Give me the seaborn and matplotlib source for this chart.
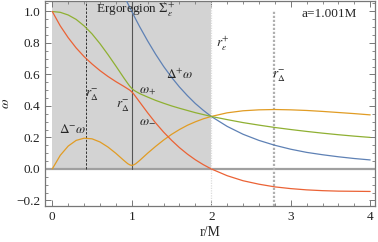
import numpy as np
import pandas as pd
import matplotlib
matplotlib.use("Agg")
import matplotlib.pyplot as plt
from matplotlib.ticker import MultipleLocator
import seaborn as sns

# ---- data ----
r = [0.0, 0.1, 0.2, 0.3, 0.4, 0.5, 0.6, 0.7, 0.8, 0.9, 0.95, 0.975, 1.0, 1.025, 1.05,
     1.1, 1.2, 1.3, 1.4, 1.5, 1.6, 1.7, 1.8, 1.9, 2.0, 2.2, 2.4, 2.6, 2.8, 3.0,
     3.2, 3.4, 3.6, 3.8, 4.0]
omega_plus = [0.999, 0.994, 0.977, 0.949, 0.908, 0.857, 0.795, 0.726, 0.653, 0.578, 0.542,
              0.525, 0.511, 0.500, 0.492, 0.478, 0.456, 0.435, 0.417, 0.400, 0.385, 0.371,
              0.357, 0.345, 0.333, 0.313, 0.294, 0.278, 0.263, 0.250, 0.238, 0.227, 0.217,
              0.208, 0.200]
omega_minus = [0.999, 0.908, 0.833, 0.768, 0.713, 0.666, 0.624, 0.587, 0.554, 0.524, 0.508,
               0.500, 0.489, 0.475, 0.458, 0.424, 0.356, 0.292, 0.234, 0.182, 0.135, 0.094,
               0.058, 0.027, 0.000, -0.043, -0.075, -0.097, -0.114, -0.125, -0.133, -0.138,
               -0.141, -0.142, -0.143]
delta_plus_omega = [1.998, 1.902, 1.810, 1.717, 1.622, 1.523, 1.419, 1.314, 1.207, 1.102, 1.050,
                    1.025, 1.000, 0.975, 0.950, 0.902, 0.812, 0.728, 0.651, 0.582, 0.520, 0.465,
                    0.415, 0.372, 0.333, 0.270, 0.220, 0.181, 0.150, 0.125, 0.105, 0.090, 0.077,
                    0.066, 0.057]
delta_minus_omega = [0.000, 0.086, 0.145, 0.181, 0.195, 0.191, 0.171, 0.139, 0.099, 0.054, 0.033,
                     0.026, 0.022, 0.026, 0.033, 0.054, 0.100, 0.143, 0.183, 0.219, 0.250, 0.277,
                     0.299, 0.318, 0.333, 0.356, 0.369, 0.375, 0.377, 0.375, 0.371, 0.365, 0.358,
                     0.351, 0.343]
r_delta_left = 0.43
r_one = 1.0
r_ergo = 2.0
r_delta_right = 2.79
x_ticks = [0, 1, 2, 3, 4]
y_ticks = [-0.2, 0.0, 0.2, 0.4, 0.6, 0.8, 1.0]

df = pd.DataFrame({"r": r, "wp": omega_plus, "wm": omega_minus,
                   "dp": delta_plus_omega, "dm": delta_minus_omega})

sns.set_style("ticks")
plt.rcParams["font.family"] = ["Liberation Serif", "DejaVu Serif"]
plt.rcParams["mathtext.fontset"] = "stix"

fig = plt.figure(figsize=(3.78, 2.42), dpi=100)
ax = fig.add_axes([0.119, 0.149, 0.873, 0.847])

XL = (-0.092, 4.06)
YL = (-0.235, 1.066)
ax.set_xlim(*XL)
ax.set_ylim(*YL)

# ergoregion shading
ax.fill_between([0, r_ergo], 0, YL[1], color="#d3d3d3", lw=0, zorder=0)
ax.axhline(0, color="#a0a0a0", lw=1.6, zorder=1)

# vertical lines
ax.plot([r_delta_left, r_delta_left], [0, YL[1]], color="#333333", lw=0.7,
        ls=(0, (2.5, 1.5)), zorder=2)
ax.plot([r_one, r_one], [0, YL[1]], color="#555555", lw=0.8, zorder=2)
ax.plot([r_ergo, r_ergo], [YL[0], YL[1]], color="#dcdcdc", lw=0.9, ls=(0, (1, 1)), zorder=2)
ax.plot([r_delta_right, r_delta_right], [YL[0], 1.0], color="#b0b0b0", lw=1.6,
        ls=(0, (1, 0.8)), zorder=2)

c_blue, c_orange, c_green, c_red = "#5E81B5", "#E19C24", "#8FB032", "#EB6235"
lw = 0.9
sns.lineplot(data=df, x="r", y="dp", color=c_blue, lw=lw, ax=ax, zorder=3)
sns.lineplot(data=df, x="r", y="dm", color=c_orange, lw=lw, ax=ax, zorder=3)
sns.lineplot(data=df, x="r", y="wp", color=c_green, lw=lw, ax=ax, zorder=3)
sns.lineplot(data=df, x="r", y="wm", color=c_red, lw=lw, ax=ax, zorder=3)

# ticks & frame
ax.set_xticks(x_ticks)
ax.set_yticks(y_ticks)
ax.set_xticklabels([str(t) for t in x_ticks])
ax.set_yticklabels(["\u22120.2", "0.0", "0.2", "0.4", "0.6", "0.8", "1.0"])
ax.xaxis.set_minor_locator(MultipleLocator(0.2))
ax.yaxis.set_minor_locator(MultipleLocator(0.05))
ax.tick_params(which="both", direction="in", top=True, right=True, color="#777777",
               labelsize=9.5, labelcolor="#222222")
ax.tick_params(which="major", length=4, width=0.7)
ax.tick_params(which="minor", length=2, width=0.6)
for s in ax.spines.values():
    s.set_color("#777777")
    s.set_linewidth(0.9)

ax.set_xlabel("r/M", fontsize=10, labelpad=2)
ax.set_ylabel("$\\omega$", fontsize=10)
ax.yaxis.set_label_coords(-0.1, 0.5)

fs = 9.5
ax.text(0.55, 1.015, "Ergoregion $\\Sigma_{\\epsilon}^{+}$", fontsize=fs, ha="left", va="center")
ax.text(3.14, 0.985, "a=1.001M", fontsize=fs, ha="left", va="center")
ax.text(2.06, 0.80, "$r_{\\epsilon}^{+}$", fontsize=fs, ha="left", va="center")
ax.text(2.77, 0.59, "$r_{\\Delta}^{-}$", fontsize=fs, ha="left", va="center")
ax.text(0.41, 0.465, "$r_{\\Delta}^{-}$", fontsize=fs, ha="left", va="center")
ax.text(0.98, 0.396, "$r_{\\Delta}^{-}$", fontsize=fs, ha="right", va="center")
ax.text(1.09, 0.496, "$\\omega_{+}$", fontsize=fs, ha="left", va="center")
ax.text(1.43, 0.60, "$\\Delta^{+}\\omega$", fontsize=fs, ha="left", va="center")
ax.text(1.09, 0.307, "$\\omega_{-}$", fontsize=fs, ha="left", va="center")
ax.text(0.09, 0.248, "$\\Delta^{-}\\omega$", fontsize=fs, ha="left", va="center")

fig.savefig("out.png", dpi=100)
